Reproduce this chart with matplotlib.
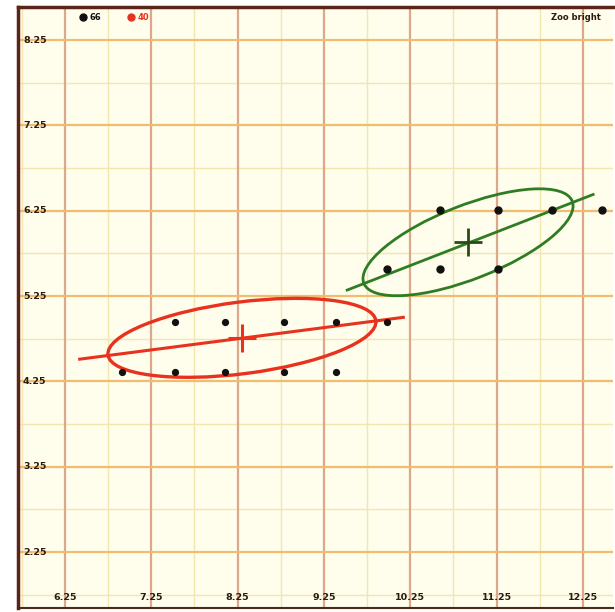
import matplotlib
matplotlib.use("Agg")
import matplotlib.pyplot as plt
from matplotlib.patches import Ellipse
import matplotlib.transforms as mtransforms

# ---- data ----
red_x = [7.52, 8.10, 8.79, 9.39, 9.98, 6.91, 7.52, 8.10, 8.79, 9.39]
red_y = [4.95, 4.95, 4.95, 4.95, 4.95, 4.36, 4.36, 4.36, 4.36, 4.36]
green_x = [10.60, 11.27, 11.89, 12.47, 9.98, 10.60, 11.27]
green_y = [6.26, 6.26, 6.26, 6.26, 5.57, 5.57, 5.57]

red_center = (8.30, 4.76)
red_ellipse = dict(w=3.13, h=0.84, angle=7.4)
red_axis_x = [6.42, 10.17]
red_axis_y = [4.51, 5.00]

green_center = (10.92, 5.88)
green_ellipse = dict(w=2.60, h=0.86, angle=21.8)
green_axis_x = [9.52, 12.37]
green_axis_y = [5.32, 6.44]

x_ticks = [6.25, 7.25, 8.25, 9.25, 10.25, 11.25, 12.25]
x_tick_labels = ["6.25", "7.25", "8.25", "9.25", "10.25", "11.25", "12.25"]
y_ticks = [8.25, 7.25, 6.25, 5.25, 4.25, 3.25, 2.25]
y_tick_labels = ["8.25", "7.25", "6.25", "5.25", "4.25", "3.25", "2.25"]
x_minor = [5.75, 6.75, 7.75, 8.75, 9.75, 10.75, 11.75]
y_minor = [7.75, 6.75, 5.75, 4.75, 3.75, 2.75, 1.75]

legend_labels = ["66", "40"]
corner_label = "Zoo bright"

RED = "#e8321e"
GREEN = "#2f7d22"

fig = plt.figure(figsize=(6.15, 6.12), dpi=100)
fig.patch.set_facecolor("white")
ax = fig.add_axes([18/615, 1 - 608/612, (613-18)/615, (608-7)/612])
ax.set_facecolor("#fffdec")
ax.set_xlim(5.705, 12.60)
ax.set_ylim(1.594, 8.637)

# grid
for v in x_minor:
    ax.axvline(v, color="#f3e6b0", lw=1.0, zorder=0)
for v in y_minor:
    ax.axhline(v, color="#f3e6b0", lw=1.0, zorder=0)
for v in x_ticks:
    ax.axvline(v, color="#dba88a", lw=1.6, zorder=0.5)
for v in y_ticks:
    ax.axhline(v, color="#f0bc6e", lw=1.6, zorder=0.5)

ax.set_xticks([])
ax.set_yticks([])

# tick labels drawn inside the frame
tx = mtransforms.blended_transform_factory(ax.transData, ax.transAxes)
ty = mtransforms.blended_transform_factory(ax.transAxes, ax.transData)
for v, s in zip(x_ticks, x_tick_labels):
    ax.text(v, 11/601, s, transform=tx, ha="center", va="center",
            fontsize=6.8, fontweight="bold", color="#2a1a10")
for v, s in zip(y_ticks, y_tick_labels):
    ax.text(5/595, v, s, transform=ty, ha="left", va="center",
            fontsize=6.8, fontweight="bold", color="#2a1a10")

# ellipses
ax.add_patch(Ellipse(red_center, red_ellipse["w"], red_ellipse["h"],
                     angle=red_ellipse["angle"], fill=False, ec=RED, lw=2.4, zorder=3))
ax.add_patch(Ellipse(green_center, green_ellipse["w"], green_ellipse["h"],
                     angle=green_ellipse["angle"], fill=False, ec=GREEN, lw=2.0, zorder=3))

# principal axes
ax.plot(red_axis_x, red_axis_y, color=RED, lw=2.2, zorder=3)
ax.plot(green_axis_x, green_axis_y, color=GREEN, lw=2.0, zorder=3)

# centers
ax.plot(*red_center, marker="+", ms=20, mew=2.2, color=RED, zorder=4)
ax.plot(*green_center, marker="+", ms=20, mew=2.0, color="#2a4a1a", zorder=4)

# points
ax.plot(red_x, red_y, "o", ms=4.2, color="#111111", zorder=5, ls="none")
ax.plot(green_x, green_y, "o", ms=5, color="#111111", zorder=5, ls="none")

# legend / header texts
ta = ax.transAxes
ax.plot([65/595], [1 - 10/601], "o", ms=5, color="#111111", transform=ta, clip_on=False)
ax.text(72/595, 1 - 10/601, legend_labels[0], transform=ta, ha="left", va="center",
        fontsize=6, fontweight="bold", color="#111111")
ax.plot([113/595], [1 - 10/601], "o", ms=5, color=RED, transform=ta, clip_on=False)
ax.text(120/595, 1 - 10/601, legend_labels[1], transform=ta, ha="left", va="center",
        fontsize=6, fontweight="bold", color=RED)
ax.text(1 - 12/595, 1 - 10/601, corner_label, transform=ta, ha="right", va="center",
        fontsize=6, fontweight="bold", color="#2a1a10")

# frame
for side in ["left", "top"]:
    ax.spines[side].set_color("#5a2418")
    ax.spines[side].set_linewidth(2.5)
ax.spines["bottom"].set_color("#4a2a18")
ax.spines["bottom"].set_linewidth(1.5)
ax.spines["right"].set_visible(False)

fig.savefig("out.png", dpi=100, facecolor="white")
